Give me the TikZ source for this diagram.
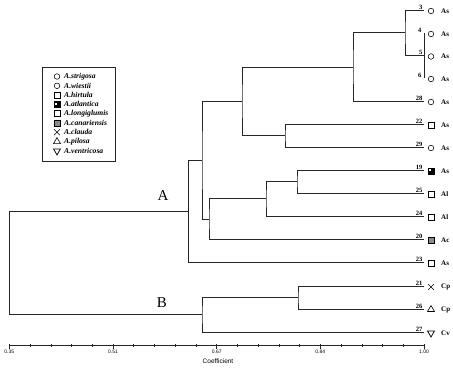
\documentclass[tikz,border=0pt]{standalone}
\usepackage{fontspec}
\setmainfont{Liberation Serif}
\setsansfont{Liberation Sans}
\usetikzlibrary{shapes.geometric,shapes.misc}
\begin{document}
\begin{tikzpicture}[x=1pt,y=-1pt,
  branch/.style={draw=black!85,line width=0.75pt},
  num/.style={font=\bfseries\fontsize{6.5}{7}\selectfont,anchor=south east,inner sep=0.4pt},
  spname/.style={font=\bfseries\fontsize{7}{7}\selectfont,anchor=west,inner sep=0pt},
  legtext/.style={font=\bfseries\itshape\fontsize{7.6}{8}\selectfont,anchor=west,inner sep=0pt},
  ticklab/.style={font=\sffamily\fontsize{5}{6}\selectfont,anchor=north,inner sep=0.5pt},
  symcirc/.style={circle,draw,line width=0.55pt,minimum size=5.6pt,inner sep=0pt},
  symsq/.style={rectangle,draw,line width=0.55pt,minimum size=6pt,inner sep=0pt},
  symatl/.style={rectangle,draw,fill=black,minimum size=6pt,inner sep=0pt,
     path picture={\fill[white] ([shift={(-1.8pt,-0.3pt)}]path picture bounding box.center) rectangle ++(1.4pt,2pt);}},
  symcan/.style={rectangle,draw,fill=black!45,minimum size=6pt,inner sep=0pt},
  symx/.style={cross out,draw,line width=0.55pt,minimum size=5.4pt,inner sep=0pt},
  symup/.style={regular polygon,regular polygon sides=3,draw,line width=0.6pt,minimum size=8pt,inner sep=0pt},
  symdown/.style={regular polygon,regular polygon sides=3,shape border rotate=180,draw,line width=0.75pt,minimum size=8pt,inner sep=0pt},
  bigl/.style={font=\fontsize{15}{16}\selectfont,inner sep=0pt}
]
\useasboundingbox (0,0) rectangle (453,388);

% leaves
\coordinate (l3) at (424,10);
\coordinate (l4) at (424,33);
\coordinate (l5) at (424,55.5);
\coordinate (l6) at (424,78);
\coordinate (l28) at (424,101);
\coordinate (l22) at (424,124);
\coordinate (l29) at (424,147);
\coordinate (l19) at (424,170);
\coordinate (l25) at (424,193);
\coordinate (l24) at (424,216);
\coordinate (l20) at (424,239);
\coordinate (l23) at (424,262);
\coordinate (l21) at (424,286);
\coordinate (l26) at (424,309);
\coordinate (l27) at (424,332);

% internal nodes
\coordinate (k1) at (405,32.75);
\coordinate (k2) at (353,66.9);
\coordinate (k3) at (285,135.5);
\coordinate (k4) at (242,101.2);
\coordinate (k5) at (297,181.5);
\coordinate (k6) at (266,198.75);
\coordinate (k7) at (209,218.9);
\coordinate (k8) at (202,160);
\coordinate (kA) at (188.7,211);
\coordinate (k9) at (298,297.5);
\coordinate (kB) at (202,314.75);
\coordinate (r0) at (9.3,262.9);

% dendrogram
\draw[branch] (l4) -- (l6);
\draw[branch] (l3) -| (k1) |- (l5);
\draw[branch] (k1) -| (k2) |- (l28);
\draw[branch] (l22) -| (k3) |- (l29);
\draw[branch] (k2) -| (k4) |- (k3);
\draw[branch] (l19) -| (k5) |- (l25);
\draw[branch] (k5) -| (k6) |- (l24);
\draw[branch] (k6) -| (k7) |- (l20);
\draw[branch] (k4) -| (k8) |- (k7);
\draw[branch] (k8) -| (kA) |- (l23);
\draw[branch] (l21) -| (k9) |- (l26);
\draw[branch] (k9) -| (kB) |- (l27);
\draw[branch] (kA) -| (r0) |- (kB);

% cluster labels
\node[bigl] (labA) at (163,196) {A};
\node[bigl] (labB) at (162,303) {B};

% leaf numbers
\node[num] (n3)  at (423,10)  {3};
\node[num] (n4)  at (422,33)  {4};
\node[num] (n5)  at (423,55.5){5};
\node[num] (n6)  at (422,78)  {6};
\node[num] (n28) at (423,101) {28};
\node[num] (n22) at (423,124) {22};
\node[num] (n29) at (423,147) {29};
\node[num] (n19) at (423,170) {19};
\node[num] (n25) at (423,193) {25};
\node[num] (n24) at (423,216) {24};
\node[num] (n20) at (423,239) {20};
\node[num] (n23) at (423,262) {23};
\node[num] (n21) at (423,286) {21};
\node[num] (n26) at (423,309) {26};
\node[num] (n27) at (423,332) {27};

% leaf symbols
\node[symcirc] (s3)  at (431,11)  {};
\node[symcirc] (s4)  at (431,34)  {};
\node[symcirc] (s5)  at (431,56.5){};
\node[symcirc] (s6)  at (431,79)  {};
\node[symcirc] (s28) at (431,102) {};
\node[symsq]   (s22) at (431,125) {};
\node[symcirc] (s29) at (431,148) {};
\node[symatl]  (s19) at (431,171) {};
\node[symsq]   (s25) at (431,194) {};
\node[symsq]   (s24) at (431,217) {};
\node[symcan]  (s20) at (431,240) {};
\node[symsq]   (s23) at (431,263) {};
\node[symx]    (s21) at (431,287) {};
\node[symup]   (s26) at (431,309.5) {};
\node[symdown] (s27) at (431,333) {};

% leaf names
\node[spname] (t3)  at (441,11)  {As};
\node[spname] (t4)  at (441,34)  {As};
\node[spname] (t5)  at (441,56.5){As};
\node[spname] (t6)  at (441,79)  {As};
\node[spname] (t28) at (441,102) {As};
\node[spname] (t22) at (441,125) {As};
\node[spname] (t29) at (441,148) {As};
\node[spname] (t19) at (441,171) {As};
\node[spname] (t25) at (441,194) {Al};
\node[spname] (t24) at (441,217) {Al};
\node[spname] (t20) at (441,240) {Ac};
\node[spname] (t23) at (441,263) {As};
\node[spname] (t21) at (441,287) {Cp};
\node[spname] (t26) at (441,310) {Cp};
\node[spname] (t27) at (441,333) {Cv};

% axis
\coordinate (ax0) at (9.3,345);
\coordinate (ax1) at (424,345);
\draw[line width=0.6pt,black!85] (ax0) -- (ax1);
\foreach \i in {0,...,20}{
  \pgfmathsetmacro{\xx}{9.3+\i*20.735}
  \draw[line width=0.5pt,black!85] (\xx,344) -- (\xx,347);
}
\foreach \i in {0,5,10,15,20}{
  \pgfmathsetmacro{\xx}{9.3+\i*20.735}
  \draw[line width=0.5pt,black!85] (\xx,344) -- (\xx,349);
}
\node[ticklab] (x1) at (9.3,349)   {0.35};
\node[ticklab] (x2) at (113,349)   {0.51};
\node[ticklab] (x3) at (216.7,349) {0.67};
\node[ticklab] (x4) at (320.3,349) {0.84};
\node[ticklab] (x5) at (424,349)   {1.00};
\node[font=\sffamily\fontsize{6.5}{7}\selectfont,inner sep=0pt] (coef) at (218,361) {Coefficient};

% legend
\draw[line width=0.6pt,black!85] (42,67) rectangle (115,161);
\node[symcirc] (g1) at (57,76.5)  {};
\node[symcirc] (g2) at (57,85.8)  {};
\node[symsq]   (g3) at (57,95.1)  {};
\node[symatl]  (g4) at (57,104.4) {};
\node[symsq]   (g5) at (57,113.7) {};
\node[symcan]  (g6) at (57,123)   {};
\node[symx]    (g7) at (57,132.3) {};
\node[symup]   (g8) at (57,141.6) {};
\node[symdown] (g9) at (57,150.9) {};
\node[legtext] (h1) at (64,76.5)  {A.strigosa};
\node[legtext] (h2) at (64,85.8)  {A.wiestii};
\node[legtext] (h3) at (64,95.1)  {A.hirtula};
\node[legtext] (h4) at (64,104.4) {A.atlantica};
\node[legtext] (h5) at (64,113.7) {A.longiglumis};
\node[legtext] (h6) at (64,123)   {A.canariensis};
\node[legtext] (h7) at (64,132.3) {A.clauda};
\node[legtext] (h8) at (64,141.6) {A.pilosa};
\node[legtext] (h9) at (64,150.9) {A.ventricosa};
\end{tikzpicture}
\end{document}
